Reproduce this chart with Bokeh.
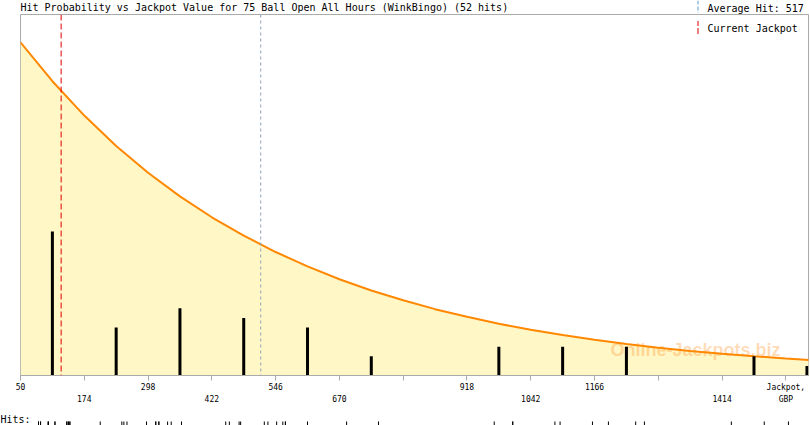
from bokeh.plotting import figure
from bokeh.layouts import column
from bokeh.models import Range1d, FixedTicker, LinearAxis, Span
from bokeh.core.properties import value
from bokeh.embed import file_html
from bokeh.resources import INLINE

# ---------------- data ----------------
title_text = "Hit Probability vs Jackpot Value for 75 Ball Open All Hours (WinkBingo) (52 hits)"
average_hit = 517
current_jackpot = 129

# histogram bars (bin centre, number of hits)
bar_centers = [112, 236, 360, 484, 608, 732, 980, 1104, 1228, 1476, 1579]
bar_counts = [15, 5, 7, 6, 5, 2, 3, 3, 3, 2, 1]

# fitted probability curve (jackpot value, level in hit units)
curve_jackpot = [50, 112, 174, 236, 298, 360, 422, 484, 546, 608, 670, 732, 794,
                 856, 918, 980, 1042, 1104, 1166, 1228, 1290, 1352, 1414, 1476,
                 1538, 1600]
curve_level = [34.70, 30.65, 27.07, 23.91, 21.12, 18.66, 16.48, 14.56, 12.86,
               11.36, 10.03, 8.86, 7.83, 6.91, 6.11, 5.39, 4.76, 4.21, 3.72,
               3.28, 2.90, 2.56, 2.26, 2.00, 1.77, 1.56]

# individual hits (jackpot value of each hit)
hit_values = [85, 85, 89, 89, 104, 104, 104, 117, 117, 140, 140, 143, 143, 146, 146,
              205, 247, 251, 257, 295,
              313, 313, 319, 319, 336, 343, 363,
              449, 456, 475, 478, 524, 531,
              548, 560, 565, 565, 608,
              684, 746,
              971, 1007, 1007,
              1089, 1099, 1162,
              1193, 1246, 1263,
              1432, 1496,
              1543]

# axis ticks and their two rows of labels
tick_values = [50, 174, 298, 422, 546, 670, 794, 918, 1042, 1166, 1290, 1414, 1538]
tick_labels_upper = ["50", "", "298", "", "546", "", "", "918", "", "1166", "", "", "Jackpot,"]
tick_labels_lower = ["", "174", "", "422", "", "670", "", "", "1042", "", "", "1414", "GBP"]

# ---------------- layout constants ----------------
W = 810
FL, FR = 20, 808          # frame left / right (px)
FT, FB = 14, 375          # frame top / bottom (px)
X0, X1 = 50, 1582
Y1 = 37.6
MONO = "DejaVu Sans Mono"
GRAY = "#aaaaaa"
RED = "#e00000"
BLUE = "#8fa3bd"


def px2x(px):
    return X0 + (px - FL) * (X1 - X0) / (FR - FL)


def py2y(py):
    return (FB - py) * Y1 / (FB - FT)


def bare(fig):
    fig.grid.visible = False
    fig.background_fill_color = "white"
    fig.border_fill_color = "white"
    fig.frame_align = False
    return fig


# ---------------- title row ----------------
top = bare(figure(width=W, height=FT, x_range=Range1d(0, W), y_range=Range1d(FT, 0),
                  min_border=0, min_border_left=0, min_border_right=0,
                  min_border_top=0, min_border_bottom=0,
                  x_axis_location=None, y_axis_location=None,
                  output_backend="svg", toolbar_location=None))
top.outline_line_color = None
top.text(x=[20], y=[7], text=[title_text], text_font=value(MONO),
         text_font_size="10px", text_color="black", text_baseline="alphabetic")
top.text(x=[707], y=[7.5], text=[f"Average Hit: {average_hit}"], text_font=value(MONO),
         text_font_size="10px", text_color="black", text_baseline="alphabetic")
top.segment(x0=[697.5], y0=[0], x1=[697.5], y1=[12.5], line_color="#5f9fd0",
            line_width=1, line_dash="4 2")

# ---------------- main chart ----------------
p = bare(figure(frame_width=FR - FL, frame_height=FB - FT,
                x_range=Range1d(X0, X1), y_range=Range1d(0, Y1),
                min_border_left=FL, min_border_right=W - FR,
                min_border_top=0, min_border_bottom=30,
                y_axis_location=None,
                output_backend="svg", toolbar_location=None))
p.outline_line_color = GRAY
p.outline_line_width = 1

p.varea(x=curve_jackpot, y1=0, y2=curve_level, fill_color="#fff7c6")
p.text(x=[px2x(610)], y=[py2y(349)], text=["Online-Jackpots.biz"],
       text_font=value("Liberation Sans"), text_font_style="bold",
       text_font_size="18px", text_color="#ff9933", text_alpha=0.35,
       text_baseline="alphabetic")
p.line(curve_jackpot, curve_level, line_color="#ff8800", line_width=2)

p.add_layout(Span(location=average_hit, dimension="height", line_color=BLUE,
                  line_width=1, line_dash="3 3"))
p.add_layout(Span(location=current_jackpot, dimension="height", line_color=RED,
                  line_width=1, line_dash="6 3"))

p.vbar(x=bar_centers, top=bar_counts, bottom=0, width=3 * (X1 - X0) / (FR - FL),
       fill_color="black", line_color=None)

# legend entry inside the frame
p.segment(x0=[px2x(697.5)], y0=[py2y(33.5)], x1=[px2x(697.5)], y1=[py2y(20.5)],
          line_color=RED, line_width=1, line_dash="6 2")
p.text(x=[px2x(707)], y=[py2y(27.5)], text=["Current Jackpot"], text_font=value(MONO),
       text_font_size="10px", text_color="black", text_baseline="alphabetic")

ax = p.xaxis[0]
ax.ticker = FixedTicker(ticks=tick_values)
ax.major_label_overrides = {v: s for v, s in zip(tick_values, tick_labels_upper)}
ax.axis_line_color = GRAY
ax.major_tick_line_color = GRAY
ax.minor_tick_line_color = None
ax.major_tick_out = 5
ax.major_tick_in = 0
ax.major_label_standoff = 2
ax.major_label_text_font = MONO
ax.major_label_text_font_size = "8px"
ax.major_label_text_color = "black"

ax2 = LinearAxis(ticker=FixedTicker(ticks=tick_values),
                 major_label_overrides={v: s for v, s in zip(tick_values, tick_labels_lower)},
                 axis_line_color=None, major_tick_line_color=None,
                 minor_tick_line_color=None, major_tick_out=0, major_tick_in=0,
                 major_label_standoff=0, major_label_text_font=MONO,
                 major_label_text_font_size="8px", major_label_text_color="black")
p.add_layout(ax2, "below")

# ---------------- hits strip ----------------
HS_H = 20
hs = bare(figure(width=W, height=HS_H, x_range=Range1d(px2x(0), px2x(W)),
                 y_range=Range1d(HS_H, 0),
                 min_border=0, min_border_left=0, min_border_right=0,
                 min_border_top=0, min_border_bottom=0,
                 x_axis_location=None, y_axis_location=None,
                 output_backend="svg", toolbar_location=None))
hs.outline_line_color = None
hs.segment(x0=hit_values, y0=[15] * len(hit_values), x1=hit_values,
           y1=[19] * len(hit_values), line_color="black", line_width=1)
hs.text(x=[px2x(0)], y=[13], text=["Hits:"], text_font=value(MONO),
        text_font_size="10px", text_color="black", text_baseline="alphabetic")

layout = column(top, p, hs)

open("out.html", "w").write(file_html(layout, INLINE))
